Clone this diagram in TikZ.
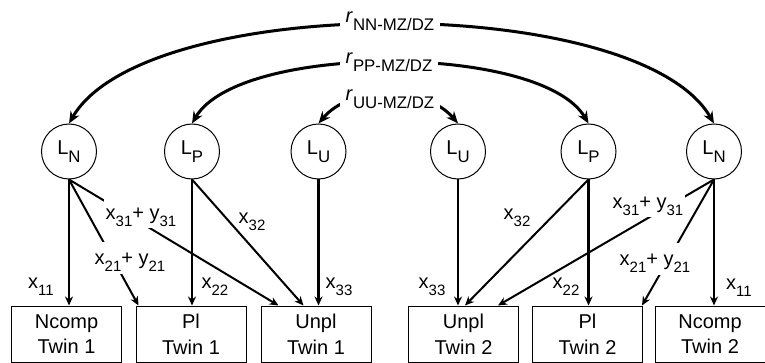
\documentclass[tikz,border=0pt]{standalone}
\usepackage{fontspec}
\setmainfont{Liberation Sans}
\usepackage{tikz}
\usetikzlibrary{arrows.meta, positioning, calc}
\tikzset{>=Stealth}
\newcommand{\lsub}[1]{\raisebox{-3.6pt}{\fontsize{7.5}{7.5}\selectfont #1}}
\newcommand{\bsub}[1]{\raisebox{-4pt}{\fontsize{8.4}{8.4}\selectfont #1}}

\begin{document}
\begin{tikzpicture}[x=0.5pt, y=-0.5pt, font=\fontsize{10}{12.8}\selectfont,
  latent/.style={draw, circle, line width=0.5pt, minimum size=27.5pt, inner sep=0pt},
  manifest/.style={draw, rectangle, line width=0.5pt, minimum width=55pt, minimum height=28pt, align=center, inner sep=0pt},
  corr/.style={<->, line width=1.5pt, >={Stealth[length=6pt,width=5pt]}},
  load/.style={->, line width=1.4pt, >={Stealth[length=4.5pt,width=4pt]}},
  cross/.style={->, line width=1pt, >={Stealth[length=4.5pt,width=4pt]}},
  coef/.style={inner sep=1pt},
  gap/.style={fill=white, inner sep=1pt, text height=10pt, text depth=3.5pt}]
		\useasboundingbox (0,0) rectangle (765,363);
		% latent factors
		\node[latent] (LN1) at (69,151.5) {L\bsub{N}};
		\node[latent] (LP1) at (192,151.5) {L\bsub{P}};
		\node[latent] (LU1) at (318.5,151.5) {L\bsub{U}};
		\node[latent] (LU2) at (458,151.5) {L\bsub{U}};
		\node[latent] (LP2) at (588.5,151.5) {L\bsub{P}};
		\node[latent] (LN2) at (714,151.5) {L\bsub{N}};
		% measures
		\node[manifest] (NC1) at (66.5,334) {Ncomp\\Twin 1};
		\node[manifest] (PL1) at (191,334) {Pl\\Twin 1};
		\node[manifest] (UP1) at (316,334) {Unpl\\Twin 1};
		\node[manifest] (UP2) at (463.5,334) {Unpl\\Twin 2};
		\node[manifest] (PL2) at (587.5,334) {Pl\\Twin 2};
		\node[manifest] (NC2) at (710,334) {Ncomp\\Twin 2};
		
		% twin correlations
		\draw[corr] (LN1.north) .. controls (145,-8) and (638,-8) .. (LN2.north);
		\draw[corr] (LP1.north) .. controls (239,43) and (541,43) .. (LP2.north);
		\draw[corr] (LU1.north) .. controls (351,85) and (425,85) .. (LU2.north);
		\node[fill=white, inner sep=3pt] (rNN) at (390,21) {\textit{r}\bsub{NN-MZ/DZ}};
		\node[fill=white, inner sep=3pt] (rPP) at (389,62.5) {\textit{r}\bsub{PP-MZ/DZ}};
		\node[fill=white, inner sep=3pt] (rUU) at (390,99) {\textit{r}\bsub{UU-MZ/DZ}};
		
		% twin 1
		\draw[load] (LN1.south) -- (LN1.south |- NC1.north);
		\draw[cross] (LN1.south) -- ([xshift=1.5pt]PL1.north west);
		\draw[cross] (LN1.south) -- ([xshift=9pt]UP1.north west);
		\draw[load] (LP1.south) -- (LP1.south |- PL1.north);
		\draw[cross] (LP1.south) -- ([xshift=21.5pt]UP1.north west);
		\draw[load] (LU1.south) -- (LU1.south |- UP1.north);
		% twin 2
		\draw[load] (LU2.south) -- (LU2.south |- UP2.north);
		\draw[cross] (LP2.south) -- ([xshift=28.5pt]UP2.north west);
		\draw[cross] (LN2.south) -- ([xshift=45pt]UP2.north west);
		\draw[load] (LP2.south) -- (LP2.south |- PL2.north);
		\draw[cross] (LN2.south) -- ([xshift=-0.5pt]PL2.north east);
		\draw[load] (LN2.south) -- (LN2.south |- NC2.north);
		
		% loadings
		\node[coef] (a11) at (41,287) {x\lsub{11}};
		\node[coef] (a22) at (215,287) {x\lsub{22}};
		\node[coef] (a32) at (252,222) {x\lsub{32}};
		\node[coef] (a33) at (339,287) {x\lsub{33}};
		\node[gap] (a31) at (141,213) {x\lsub{31}+ y\lsub{31}};
		\node[gap] (a21) at (130,258) {x\lsub{21}+ y\lsub{21}};
		\node[coef] (b33) at (432,287) {x\lsub{33}};
		\node[coef] (b32) at (517,218) {x\lsub{32}};
		\node[coef] (b22) at (566,287) {x\lsub{22}};
		\node[coef] (b11) at (739,288) {x\lsub{11}};
		\node[gap] (b31) at (648,202) {x\lsub{31}+ y\lsub{31}};
		\node[gap] (b21) at (655,259) {x\lsub{21}+ y\lsub{21}};
\end{tikzpicture}
\end{document}
